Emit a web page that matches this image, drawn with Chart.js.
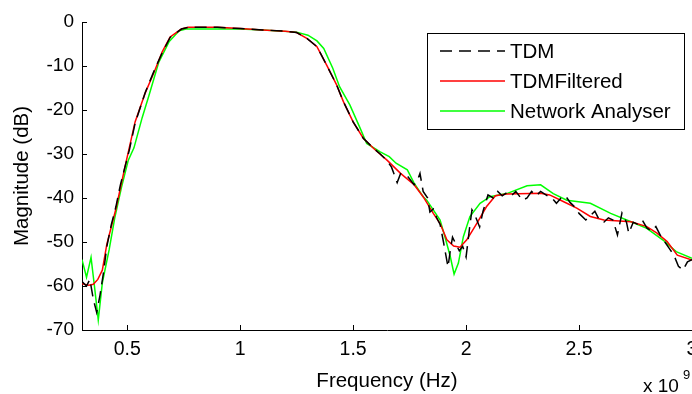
<!DOCTYPE html>
<html>
<head>
<meta charset="utf-8">
<script src="https://cdn.jsdelivr.net/npm/chart.js@4/dist/chart.umd.min.js"></script>
<style>
html,body{margin:0;padding:0;background:#fff;}
#wrap{width:692px;height:394px;position:relative;}
</style>
</head>
<body>
<div id="wrap"><canvas id="c" width="692" height="394"></canvas></div>
<script>
// Frequency in units of 1e9 Hz
const freqTDM = [0.30,0.32,0.335,0.35,0.365,0.38,0.395,0.41,0.43,0.45,0.47,0.49,0.51,0.535,0.58,0.62,0.655,0.69,0.74,0.77,0.90,1.00,1.10,1.20,1.25,1.295,1.34,1.383,1.427,1.457,1.50,1.545,1.59,1.62,1.65,1.67,1.695,1.71,1.74,1.77,1.785,1.796,1.81,1.83,1.84,1.855,1.87,1.885,1.90,1.92,1.93,1.94,1.955,1.97,1.985,2.00,2.015,2.026,2.04,2.06,2.075,2.097,2.12,2.14,2.16,2.18,2.20,2.22,2.25,2.27,2.29,2.31,2.33,2.36,2.38,2.40,2.42,2.44,2.46,2.48,2.50,2.53,2.55,2.57,2.59,2.61,2.63,2.65,2.67,2.69,2.71,2.72,2.74,2.76,2.78,2.80,2.82,2.84,2.86,2.88,2.90,2.92,2.94,2.96,2.98,3.00];
const magTDM = [-59,-60,-58.5,-63,-66,-62,-57,-51,-46,-42,-37,-33,-29,-23,-16,-11,-7,-3.5,-1.6,-1.2,-1.2,-1.5,-1.8,-2.1,-2.4,-3.7,-5.6,-9.8,-14.3,-18.1,-22.7,-26.4,-28.7,-30,-31.5,-33,-36.5,-34.5,-35,-37,-36,-34.4,-38.5,-40,-43.2,-42.5,-44.5,-46,-50,-55.7,-52,-48.9,-50.5,-52,-51,-53.4,-47,-42.7,-44,-46.6,-43,-39.3,-40,-38.5,-39.5,-38.8,-39.5,-38.5,-40.5,-40,-38.5,-39.5,-38.5,-39.5,-40,-41.2,-40,-39.5,-41,-42,-43.5,-45,-44,-43,-45,-45.5,-44.5,-45,-48.4,-43.4,-45.5,-48,-45.5,-46,-45,-46.8,-47.5,-46.5,-48.5,-50,-51.5,-53,-55.5,-56.4,-54.5,-54];

const freqFiltered = [0.30,0.33,0.35,0.37,0.39,0.41,0.45,0.49,0.535,0.58,0.62,0.655,0.69,0.74,0.77,0.90,1.00,1.10,1.20,1.25,1.295,1.34,1.383,1.427,1.457,1.50,1.545,1.59,1.65,1.71,1.77,1.81,1.855,1.885,1.915,1.945,1.973,2.003,2.047,2.09,2.13,2.18,2.33,2.37,2.43,2.49,2.55,2.61,2.73,2.80,2.845,2.89,2.935,3.00];
const magFiltered = [-59.5,-59.8,-59.6,-58.5,-56.4,-50.5,-42.5,-33,-22.7,-16.1,-11.3,-6.8,-3.4,-1.6,-1.2,-1.2,-1.5,-1.8,-2.1,-2.4,-3.7,-5.6,-9.8,-14.3,-18.1,-22.7,-26.4,-28.7,-31.4,-34.4,-37,-39.7,-43.5,-45.8,-49.5,-50.9,-51.2,-49.5,-45.8,-42,-39.5,-39.1,-38.9,-39.3,-40.8,-42.3,-44.2,-45,-45.4,-46.5,-48,-49.9,-53,-54.1];

const freqNA = [0.30,0.32,0.34,0.355,0.372,0.39,0.42,0.445,0.475,0.505,0.53,0.566,0.597,0.64,0.685,0.73,0.76,1.00,1.10,1.25,1.30,1.34,1.37,1.41,1.44,1.486,1.53,1.56,1.62,1.66,1.69,1.74,1.77,1.81,1.826,1.885,1.91,1.93,1.947,1.966,1.988,2.017,2.062,2.106,2.18,2.27,2.33,2.386,2.446,2.55,2.64,2.73,2.80,2.87,2.93,3.00];
const magNA = [-54,-58,-53.5,-60,-67.7,-59.3,-51.8,-44.5,-37.5,-31.4,-28.6,-21.8,-16.6,-9.1,-4.5,-2.0,-1.6,-1.6,-1.8,-2.3,-3.0,-4.3,-6,-10.5,-14.7,-18.9,-24,-27.6,-29.5,-30.6,-32.1,-33.6,-36.6,-39.7,-40.5,-45,-49.5,-53.3,-57.3,-54.8,-48.8,-44.2,-41.2,-39.7,-39,-37.2,-37,-39,-40.5,-41.2,-43.5,-45.4,-46.9,-49.5,-52.2,-53.7];

const seriesLabels = ['TDM','TDMFiltered','Network Analyser'];
const xTicks = [0.5,1,1.5,2,2.5,3];
const yTicks = [0,-10,-20,-30,-40,-50,-60,-70];

const FONT = '"Liberation Sans", Arial, sans-serif';
const toXY = (xs, ys) => xs.map((x,i)=>({x:x, y:ys[i]}));

const axisPlugin = {
  id:'axisExtras',
  afterDraw(chart){
    const ctx = chart.ctx;
    const xs = chart.scales.x, ys = chart.scales.y;
    const a = chart.chartArea;
    ctx.save();
    ctx.strokeStyle = '#000';
    ctx.lineWidth = 1;
    // inward ticks
    yTicks.forEach(v=>{
      const py = Math.round(ys.getPixelForValue(v))+0.5;
      ctx.beginPath(); ctx.moveTo(a.left, py); ctx.lineTo(a.left+5, py); ctx.stroke();
    });
    xTicks.forEach(v=>{
      const px = Math.round(xs.getPixelForValue(v))+0.5;
      ctx.beginPath(); ctx.moveTo(px, a.bottom); ctx.lineTo(px, a.bottom-5); ctx.stroke();
    });
    // x 10^9 multiplier
    ctx.fillStyle = '#000';
    ctx.textBaseline = 'alphabetic';
    ctx.textAlign = 'left';
    ctx.font = '19px ' + FONT;
    ctx.fillText('x 10', 643, 392);
    ctx.font = '13px ' + FONT;
    ctx.fillText('9', 683, 379);
    // legend
    const lx = 427, ly = 33, lw = 257, lh = 96;
    ctx.fillStyle = '#fff';
    ctx.fillRect(lx, ly, lw, lh);
    ctx.strokeStyle = '#000';
    ctx.lineWidth = 1;
    ctx.strokeRect(lx+0.5, ly+0.5, lw, lh);
    const ds = chart.data.datasets;
    const rows = [51, 81, 111];
    ds.forEach((d,i)=>{
      const y = rows[i];
      ctx.save();
      ctx.strokeStyle = d.borderColor;
      ctx.lineWidth = d.borderWidth;
      ctx.setLineDash(d.borderDash || []);
      ctx.beginPath(); ctx.moveTo(440, y); ctx.lineTo(505, y); ctx.stroke();
      ctx.restore();
      ctx.fillStyle = '#000';
      ctx.font = '20.5px ' + FONT;
      ctx.textBaseline = 'middle';
      ctx.fillText(d.label, 510, y+1);
    });
    ctx.restore();
  }
};

new Chart(document.getElementById('c'), {
  type:'line',
  data:{
    datasets:[
      {label:seriesLabels[0], data:toXY(freqTDM, magTDM), borderColor:'#000000', borderWidth:1.5, borderDash:[12,7], pointRadius:0, tension:0, fill:false},
      {label:seriesLabels[1], data:toXY(freqFiltered, magFiltered), borderColor:'#ff0000', borderWidth:1.5, pointRadius:0, tension:0, fill:false},
      {label:seriesLabels[2], data:toXY(freqNA, magNA), borderColor:'#00ff00', borderWidth:1.5, pointRadius:0, tension:0, fill:false}
    ]
  },
  options:{
    responsive:false,
    animation:false,
    devicePixelRatio:1,
    layout:{padding:{top:22,right:0,left:0,bottom:0}},
    plugins:{legend:{display:false}, tooltip:{enabled:false}},
    scales:{
      x:{
        type:'linear', min:0.3, max:3,
        afterBuildTicks(s){ s.ticks = xTicks.map(v=>({value:v})); },
        afterFit(s){ s.height = 64; s.paddingLeft = 0; s.paddingRight = 0; },
        grid:{display:false, drawTicks:false},
        border:{display:true, color:'#000', width:1},
        ticks:{color:'#000', font:{family:FONT, size:19.5}, padding:8, maxRotation:0, autoSkip:false,
               callback:(v)=>String(v)},
        title:{display:true, text:'Frequency (Hz)', color:'#000', font:{family:FONT, size:20.5}, padding:{top:1,bottom:0}}
      },
      y:{
        type:'linear', min:-70, max:0,
        afterBuildTicks(s){ s.ticks = yTicks.map(v=>({value:v})); },
        afterFit(s){ s.width = 82; s.paddingTop = 0; s.paddingBottom = 0; },
        grid:{display:false, drawTicks:false},
        border:{display:true, color:'#000', width:1},
        ticks:{color:'#000', font:{family:FONT, size:19}, padding:8, autoSkip:false,
               callback:(v)=>String(v)},
        title:{display:true, text:'Magnitude (dB)', color:'#000', font:{family:FONT, size:20.5}, padding:{top:10,bottom:0}}
      }
    }
  },
  plugins:[axisPlugin]
});
</script>
</body>
</html>
